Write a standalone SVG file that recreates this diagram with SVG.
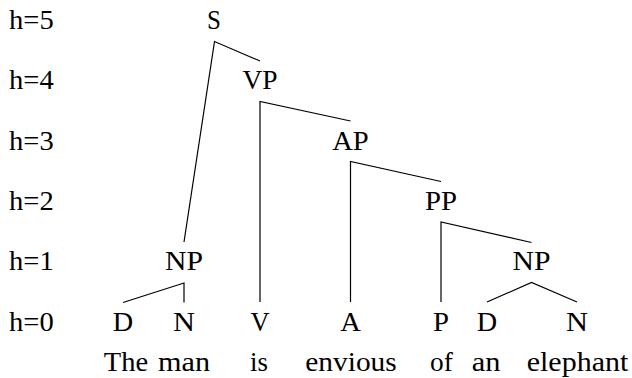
<svg xmlns="http://www.w3.org/2000/svg" width="632" height="378" viewBox="0 0 632 378">
<style>
text{font-family:"Liberation Serif","DejaVu Serif",serif;font-size:26.5px;fill:#000}
.n{text-anchor:middle}
.e{stroke:#000;stroke-width:1.2;fill:none;stroke-linecap:butt}
</style>
<rect width="632" height="378" fill="#fff"/>
<g id="levels">
<text x="9" y="29" textLength="44.7" lengthAdjust="spacingAndGlyphs">h=5</text>
<text x="9" y="89" textLength="44.7" lengthAdjust="spacingAndGlyphs">h=4</text>
<text x="9" y="150" textLength="44.7" lengthAdjust="spacingAndGlyphs">h=3</text>
<text x="9" y="210" textLength="44.7" lengthAdjust="spacingAndGlyphs">h=2</text>
<text x="9" y="270" textLength="44.7" lengthAdjust="spacingAndGlyphs">h=1</text>
<text x="9" y="331" textLength="44.7" lengthAdjust="spacingAndGlyphs">h=0</text>
</g>
<g id="connectors">
<polyline class="e" points="260,61 214.5,41.5 184,242"/>
<polyline class="e" points="350.5,121 260,101.5 260,302"/>
<polyline class="e" points="441,181.5 350.5,161.5 350.5,302"/>
<polyline class="e" points="531.5,242.5 441,222 441,302"/>
<polyline class="e" points="123,302.5 184,283 184,302.5"/>
<polyline class="e" points="487,302 531.5,282.5 577,302"/>
</g>
<g id="S"><text class="n" x="214" y="29" textLength="13.9" lengthAdjust="spacingAndGlyphs">S</text></g>
<g id="VP"><text class="n" x="260" y="89" textLength="35.1" lengthAdjust="spacingAndGlyphs">VP</text></g>
<g id="AP"><text class="n" x="350.5" y="150" textLength="36.6" lengthAdjust="spacingAndGlyphs">AP</text></g>
<g id="PP"><text class="n" x="441" y="210" textLength="32" lengthAdjust="spacingAndGlyphs">PP</text></g>
<g id="NP1"><text class="n" x="184" y="270" textLength="38" lengthAdjust="spacingAndGlyphs">NP</text></g>
<g id="NP2"><text class="n" x="531.5" y="270" textLength="38" lengthAdjust="spacingAndGlyphs">NP</text></g>
<g id="D1"><text class="n" x="123" y="331" textLength="20.4" lengthAdjust="spacingAndGlyphs">D</text></g>
<g id="N1"><text class="n" x="184" y="331" textLength="22" lengthAdjust="spacingAndGlyphs">N</text></g>
<g id="V"><text class="n" x="260" y="331" textLength="19.1" lengthAdjust="spacingAndGlyphs">V</text></g>
<g id="A"><text class="n" x="350.5" y="331" textLength="20.6" lengthAdjust="spacingAndGlyphs">A</text></g>
<g id="P"><text class="n" x="441" y="331" textLength="16" lengthAdjust="spacingAndGlyphs">P</text></g>
<g id="D2"><text class="n" x="487" y="331" textLength="20.4" lengthAdjust="spacingAndGlyphs">D</text></g>
<g id="N2"><text class="n" x="577" y="331" textLength="22" lengthAdjust="spacingAndGlyphs">N</text></g>
<g id="words">
<text class="n" x="126" y="371" textLength="44.3" lengthAdjust="spacingAndGlyphs">The</text>
<text class="n" x="184" y="371" textLength="52" lengthAdjust="spacingAndGlyphs">man</text>
<text class="n" x="259" y="371" textLength="17.9" lengthAdjust="spacingAndGlyphs">is</text>
<text class="n" x="351" y="371" textLength="91.5" lengthAdjust="spacingAndGlyphs">envious</text>
<text class="n" x="441.5" y="371" textLength="22.8" lengthAdjust="spacingAndGlyphs">of</text>
<text class="n" x="486" y="371" textLength="28.7" lengthAdjust="spacingAndGlyphs">an</text>
<text class="n" x="577.5" y="371" textLength="101.5" lengthAdjust="spacingAndGlyphs">elephant</text>
</g>
</svg>
